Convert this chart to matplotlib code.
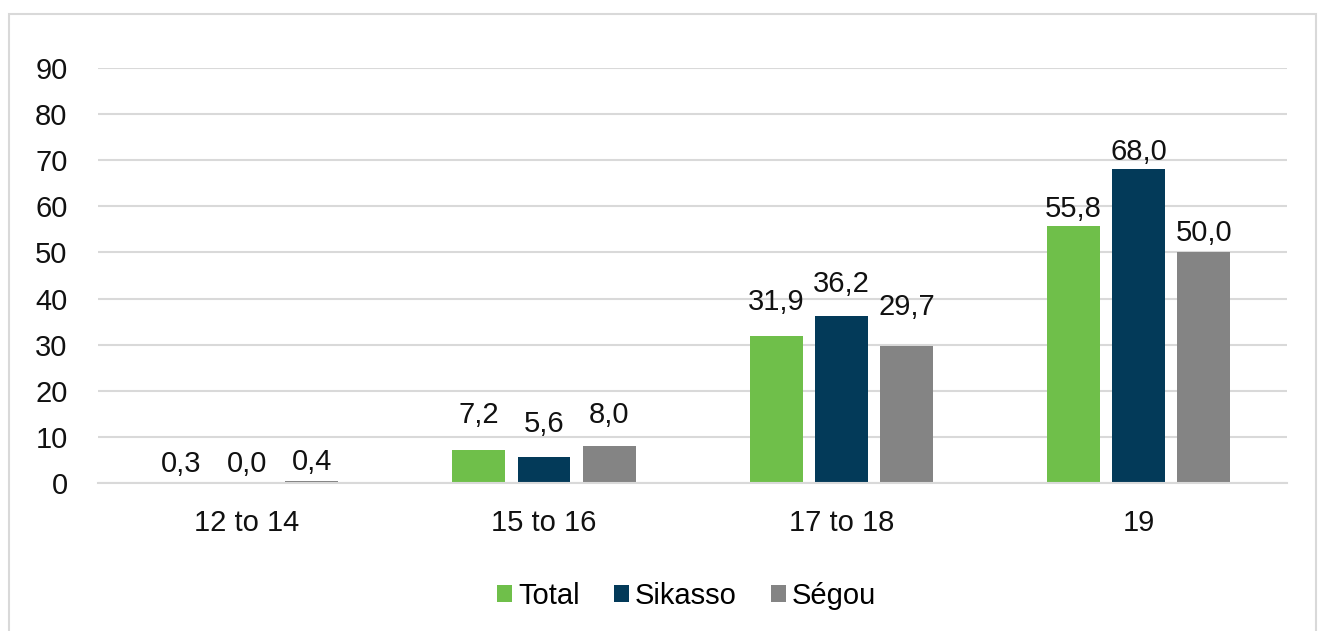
import numpy as np
import matplotlib
matplotlib.use('Agg')
from matplotlib import pyplot as plt
from matplotlib.patches import Rectangle

# data
age_groups = ['12 to 14', '15 to 16', '17 to 18', '19']
total = [0.3, 7.2, 31.9, 55.8]
sikasso = [0.0, 5.6, 36.2, 68.0]
segou = [0.4, 8.0, 29.7, 50.0]
series_names = ['Total', 'Sikasso', 'Ségou']

colors = ['#6fbf4a', '#033a59', '#848484']
# gap (pixels) between bar top and label baseline, as placed in the original
label_gap = [[10, 11, 11], [27, 25, 23], [26, 24, 31], [9, 9, 11]]

plt.rcParams['font.family'] = ['Liberation Sans', 'DejaVu Sans']
fs = 21

fig = plt.figure(figsize=(13.18, 6.31), dpi=100)
ax = fig.add_axes([0.0744, 0.2346, 0.9023, 0.6577])

x = np.arange(len(age_groups))
step = 0.219
width = 0.178
series = [total, sikasso, segou]
for i, vals in enumerate(series):
	pos = x + (i - 1) * step
	ax.bar(pos, vals, width, color=colors[i], label=series_names[i], zorder=2)
	for j, v in enumerate(vals):
		ax.annotate(('%.1f' % v).replace('.', ','), (pos[j], v),
			xytext=(0, label_gap[j][i]), textcoords='offset pixels',
			ha='center', va='baseline', fontsize=fs, color='#111111')

ax.set_xlim(-0.5, 3.5)
ax.set_ylim(0, 90)
ax.set_yticks(range(0, 91, 10))
ax.set_xticks(x)
ax.set_xticklabels(age_groups)
ax.yaxis.grid(True, color='#d9d9d9', linewidth=1.5, zorder=0)
ax.set_axisbelow(True)
ax.tick_params(axis='both', length=0, labelsize=fs, colors='#111111')
ax.tick_params(axis='y', pad=22)
ax.tick_params(axis='x', pad=19)
for s in ['top', 'right', 'left']:
	ax.spines[s].set_visible(False)
ax.spines['bottom'].set_color('#d9d9d9')
ax.spines['bottom'].set_linewidth(1.5)
ax.spines['bottom'].set_zorder(3)

fig.legend(loc='center', bbox_to_anchor=(0.521, 0.055), ncol=3, frameon=False,
	fontsize=fs, handlelength=0.52, handleheight=0.52, handletextpad=0.2,
	columnspacing=1.17)

fig.patches.append(Rectangle((0.0068, -0.02), 0.992, 0.998, transform=fig.transFigure,
	fill=False, edgecolor='#d9d9d9', linewidth=1.5))

fig.savefig('out.png', dpi=100)
